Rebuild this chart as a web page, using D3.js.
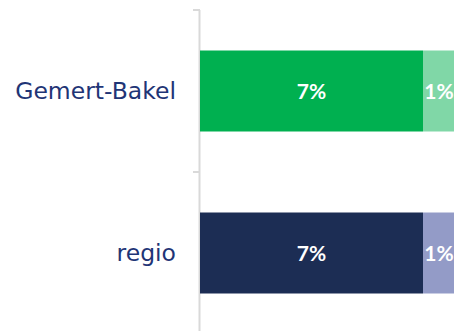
<!DOCTYPE html>
<html>
<head>
<meta charset="utf-8">
<script src="https://cdn.jsdelivr.net/npm/d3@7"></script>
<style>
  body { margin: 0; background: #fff; }
  svg { display: block; }
</style>
</head>
<body>
<svg id="vis" width="454" height="331"></svg>
<script>
// data
const categories = ["Gemert-Bakel", "regio"];
const series = ["deel1", "deel2"];
const values = {
  "Gemert-Bakel": [7, 1],
  "regio": [7, 1]
};
const labels = {
  "Gemert-Bakel": ["7%", "1%"],
  "regio": ["7%", "1%"]
};
const colors = {
  "Gemert-Bakel": ["#00b050", "#80d7a7"],
  "regio": ["#1c2d54", "#939bc7"]
};

const svg = d3.select("svg#vis");

const y = d3.scaleBand()
  .domain(categories)
  .range([10, 334])
  .paddingInner(0.5)
  .paddingOuter(0.25);

const x = d3.scaleLinear()
  .domain([0, 7])
  .range([200, 423]);

// axis line with tick at category boundaries
const axis = svg.append("g").attr("id", "axis");
axis.append("line")
  .attr("x1", 199.5).attr("x2", 199.5)
  .attr("y1", y.range()[0]).attr("y2", y.range()[1])
  .attr("stroke", "#d9d9d9").attr("stroke-width", 2);
categories.forEach(function(c) {
  const top = y(c) - y.step() * y.paddingOuter();
  axis.append("line")
    .attr("x1", 193).attr("x2", 200)
    .attr("y1", top).attr("y2", top)
    .attr("stroke", "#d9d9d9").attr("stroke-width", 2);
});

// bars
categories.forEach(function(c) {
  let start = 0;
  const g = svg.append("g").attr("class", "bar");
  values[c].forEach(function(v, i) {
    const x0 = x(start), x1 = x(start + v);
    g.append("rect")
      .attr("x", x0)
      .attr("y", y(c))
      .attr("width", x1 - x0)
      .attr("height", y.bandwidth())
      .attr("fill", colors[c][i]);
    g.append("text")
      .attr("x", (x0 + x1) / 2)
      .attr("y", y(c) + y.bandwidth() / 2)
      .attr("dy", "0.36em")
      .attr("text-anchor", "middle")
      .attr("fill", "#fff")
      .style("font-family", "Lato, sans-serif")
      .style("font-weight", "bold")
      .style("font-size", "21px")
      .text(labels[c][i]);
    start += v;
  });
});

// category labels
svg.append("g").selectAll("text")
  .data(categories)
  .enter()
  .append("text")
  .attr("x", 176)
  .attr("y", d => y(d) + y.bandwidth() / 2)
  .attr("dy", "0.36em")
  .attr("text-anchor", "end")
  .attr("fill", "#1f3576")
  .style("font-family", "'DejaVu Sans', sans-serif")
  .style("font-size", "23.5px")
  .text(d => d);
</script>
</body>
</html>
